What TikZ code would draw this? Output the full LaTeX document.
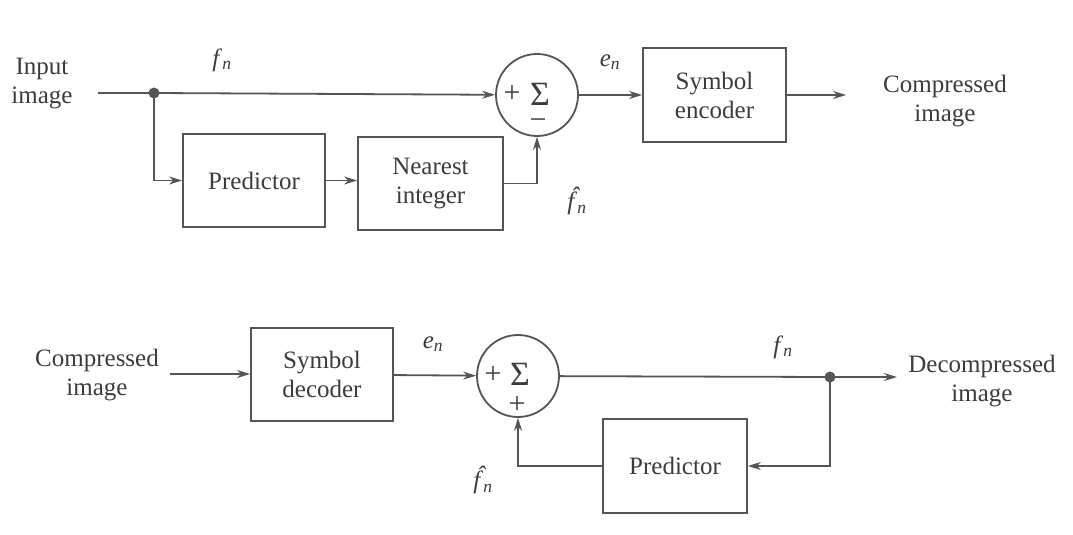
\documentclass[tikz,border=0pt]{standalone}
\usepackage{fontspec}
\setmainfont{Liberation Serif}
\usetikzlibrary{arrows.meta}
\definecolor{ln}{RGB}{85,85,85}
\definecolor{tx}{RGB}{60,60,60}
\newcommand{\sub}[2]{\textit{#1}\textsubscript{\textit{#2}}}
\newcommand{\fhatn}{\textit{\makebox[0pt][l]{\hspace{0.14em}\raisebox{0.22em}{ˆ}}f}\textsubscript{\textit{n}}}
\newcommand{\sigmabig}{{\fontsize{34}{34}\selectfont Σ}}
\newcommand{\sgn}[1]{{\fontsize{30}{30}\selectfont #1}}
\begin{document}
\begin{tikzpicture}[x=1pt,y=-1pt,
  every node/.style={text=tx,font=\fontsize{25}{29}\selectfont},
  blk/.style={draw=ln,line width=1.8pt,rectangle,inner sep=0pt,align=center},
  sumc/.style={draw=ln,line width=1.8pt,circle,inner sep=0pt,minimum size=82pt},
  jdot/.style={circle,fill=ln,inner sep=0pt,minimum size=11pt},
  lbl/.style={align=center,inner sep=0pt},
  wire/.style={draw=ln,line width=1.8pt},
  arr/.style={wire,-{Stealth[length=13pt,width=8pt]}}]
\useasboundingbox[fill=white] (0,0) rectangle (1073,535);
% ---- top: encoder ----
\node[lbl] (inl) at (42,84) {Input\\image};
\coordinate (in1) at (98,93);
\node[jdot] (d1) at (154,93) {};
\node[sumc] (s1) at (537,95) {};
\node[blk,minimum width=142pt,minimum height=93pt] (p1) at (254,180.5) {Predictor};
\node[blk,minimum width=145pt,minimum height=93pt] (ni) at (430.5,183.5) {Nearest\\integer};
\node[blk,minimum width=143pt,minimum height=94pt] (enc) at (714.5,95) {Symbol\\encoder};
\coordinate (o1) at (846,95);
\node[lbl] (outl) at (945,101) {Compressed\\image};
\node[lbl] (pl1) at (512,94) {\sgn{+}};
\node[lbl] (sg1) at (540,94) {\sigmabig};
\node[lbl] (mi1) at (538,124) {\sgn{\textminus}};
\node[lbl] (fn1) at (222,60) {\sub{f}{n}};
\node[lbl] (en1) at (610,62) {\sub{e}{n}};
\node[lbl] (fh1) at (577,201) {\fhatn};
\draw[wire] (in1) -- (d1.center);
\draw[arr] (d1.center) -- (s1);
\draw[arr] (d1.center) |- (p1.west);
\draw[arr] (p1.east) -- (p1.east -| ni.west);
\draw[arr] (ni.east) -| (s1.south);
\draw[arr] (s1) -- (enc);
\draw[arr] (enc.east) -- (o1);
% ---- bottom: decoder ----
\node[lbl] (inl2) at (97,375) {Compressed\\image};
\coordinate (in2) at (170,374);
\node[blk,minimum width=142pt,minimum height=93pt] (dec) at (322,374.5) {Symbol\\decoder};
\node[sumc] (s2) at (518,376) {};
\node[blk,minimum width=144pt,minimum height=94pt] (p2) at (675,466) {Predictor};
\node[jdot] (d2) at (830,377) {};
\coordinate (o2) at (897,377);
\node[lbl] (outl2) at (982,381) {Decompressed\\image};
\node[lbl] (pl2) at (493,375) {\sgn{+}};
\node[lbl] (sg2) at (520,374) {\sigmabig};
\node[lbl] (pl3) at (517,405) {\sgn{+}};
\node[lbl] (en2) at (433,344) {\sub{e}{n}};
\node[lbl] (fn2) at (783,347) {\sub{f}{n}};
\node[lbl] (fh2) at (483,480) {\fhatn};
\draw[arr] (in2) -- (dec.west |- in2);
\draw[arr] (dec) -- (s2);
\draw[wire] (s2) -- (d2.center);
\draw[arr] (d2.center) -- (o2);
\draw[arr] (d2.center) |- (p2.east);
\draw[arr] (p2.west) -| (s2.south);
\end{tikzpicture}
\end{document}
